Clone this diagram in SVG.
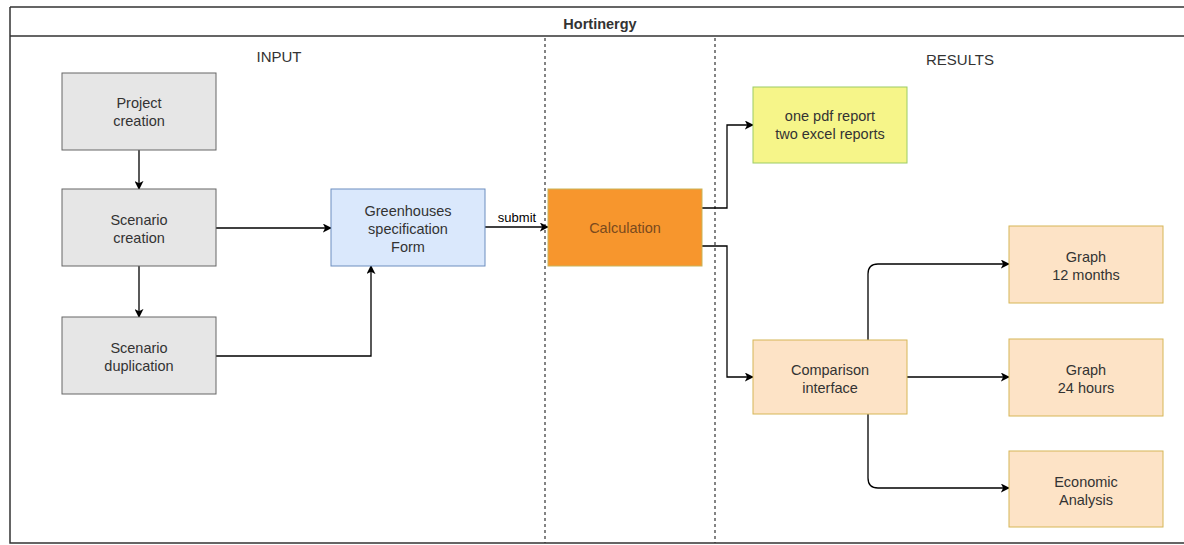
<svg xmlns="http://www.w3.org/2000/svg" width="1184" height="545" viewBox="0 0 1184 545">
<defs>
<marker id="arr" viewBox="0 0 10 10" refX="9" refY="5" markerWidth="9" markerHeight="9" markerUnits="userSpaceOnUse" orient="auto">
<path d="M0,0 L10,5 L0,10 L2.5,5 Z" fill="#000"/>
</marker>
<style>
text{font-family:"Liberation Sans",Arial,sans-serif;font-size:14.5px;fill:#333;text-anchor:middle}
.gray{fill:#e6e6e6;stroke:#666;stroke-width:1}
.blue{fill:#dae8fc;stroke:#6c8ebf;stroke-width:1}
.peach{fill:#fde3c6;stroke:#d6b656;stroke-width:1}
.yellow{fill:#f6f589;stroke:#9ccc65;stroke-width:1}
.calc{fill:#f7962d;stroke:#c9b458;stroke-width:1}
.c{fill:none;stroke:#000;stroke-width:1.3;marker-end:url(#arr)}
.dash{stroke:#333;stroke-width:1.2;stroke-dasharray:3 3}
</style>
</defs>
<rect width="1184" height="545" fill="#fff"/>
<g id="frame">
<path d="M10,7 H1190 M10,7 V543 H1190 M10,36 H1190" fill="none" stroke="#333" stroke-width="1.5"/>
<text x="600" y="29" style="font-weight:bold;font-size:14.5px">Hortinergy</text>
<line class="dash" x1="545" y1="38" x2="545" y2="543"/>
<line class="dash" x1="715" y1="38" x2="715" y2="543"/>
<text x="279" y="62" style="font-size:15px">INPUT</text>
<text x="960" y="65" style="font-size:15px">RESULTS</text>
</g>
<g id="connectors">
<line class="c" x1="139" y1="150" x2="139" y2="189"/>
<line class="c" x1="139" y1="266" x2="139" y2="317"/>
<line class="c" x1="216" y1="228" x2="331" y2="228"/>
<path class="c" d="M216,356 H371 V266"/>
<line class="c" x1="485" y1="227" x2="548" y2="227"/>
<text x="517" y="222" style="font-size:13px;fill:#000">submit</text>
<path class="c" d="M702,208 H727 V125 H753"/>
<path class="c" d="M702,246 H727 V377 H753"/>
<path class="c" d="M868,340 V274 Q868,264 878,264 H1009"/>
<line class="c" x1="907" y1="377" x2="1009" y2="377"/>
<path class="c" d="M868,414 V478 Q868,488 878,488 H1009"/>
</g>
<g id="project-creation">
<rect class="gray" x="62" y="73" width="154" height="77"/>
<text x="139" y="108">Project</text><text x="139" y="126">creation</text>
</g>
<g id="scenario-creation">
<rect class="gray" x="62" y="189" width="154" height="77"/>
<text x="139" y="225">Scenario</text><text x="139" y="243">creation</text>
</g>
<g id="scenario-duplication">
<rect class="gray" x="62" y="317" width="154" height="77"/>
<text x="139" y="353">Scenario</text><text x="139" y="371">duplication</text>
</g>
<g id="greenhouses-form">
<rect class="blue" x="331" y="189" width="154" height="77"/>
<text x="408" y="216">Greenhouses</text><text x="408" y="234">specification</text><text x="408" y="252">Form</text>
</g>
<g id="calculation">
<rect class="calc" x="548" y="189" width="154" height="77"/>
<text x="625" y="233" style="fill:#7a4a1e">Calculation</text>
</g>
<g id="reports">
<rect class="yellow" x="753" y="87" width="154" height="76"/>
<text x="830" y="121">one pdf report</text><text x="830" y="139">two excel reports</text>
</g>
<g id="comparison-interface">
<rect class="peach" x="753" y="340" width="154" height="74"/>
<text x="830" y="375">Comparison</text><text x="830" y="393">interface</text>
</g>
<g id="graph-12-months">
<rect class="peach" x="1009" y="226" width="154" height="77"/>
<text x="1086" y="262">Graph</text><text x="1086" y="280">12 months</text>
</g>
<g id="graph-24-hours">
<rect class="peach" x="1009" y="339" width="154" height="77"/>
<text x="1086" y="375">Graph</text><text x="1086" y="393">24 hours</text>
</g>
<g id="economic-analysis">
<rect class="peach" x="1009" y="451" width="154" height="76"/>
<text x="1086" y="487">Economic</text><text x="1086" y="505">Analysis</text>
</g>
</svg>
